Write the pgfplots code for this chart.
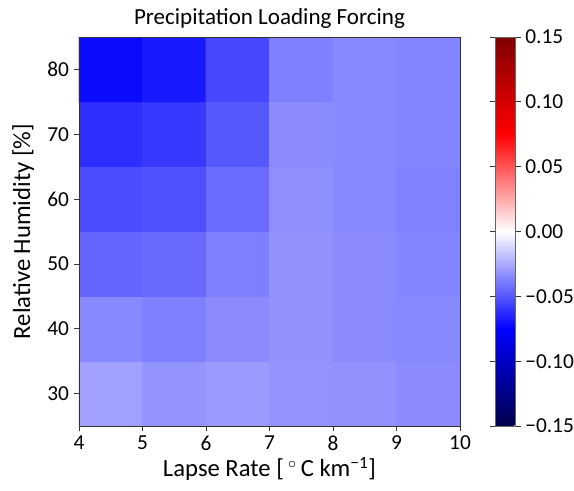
\documentclass[border=0pt]{standalone}
\usepackage{pgfplots}
\pgfplotsset{compat=1.18}
\usepackage{fontspec}
\setmainfont{Carlito}

% cell values: x = lapse rate (cell centre), y = relative humidity, c = forcing
\pgfplotstableread{
x   y   c
4.5 30 -0.0280
5.5 30 -0.0315
6.5 30 -0.0295
7.5 30 -0.0315
8.5 30 -0.0320
9.5 30 -0.0340
4.5 40 -0.0350
5.5 40 -0.0375
6.5 40 -0.0340
7.5 40 -0.0320
8.5 40 -0.0340
9.5 40 -0.0345
4.5 50 -0.0455
5.5 50 -0.0440
6.5 50 -0.0380
7.5 50 -0.0320
8.5 50 -0.0340
9.5 50 -0.0360
4.5 60 -0.0530
5.5 60 -0.0515
6.5 60 -0.0435
7.5 60 -0.0330
8.5 60 -0.0350
9.5 60 -0.0370
4.5 70 -0.0615
5.5 70 -0.0585
6.5 70 -0.0490
7.5 70 -0.0340
8.5 70 -0.0350
9.5 70 -0.0360
4.5 80 -0.0720
5.5 80 -0.0675
6.5 80 -0.0540
7.5 80 -0.0375
8.5 80 -0.0350
9.5 80 -0.0360
}\forcing

\pgfplotsset{
  colormap={seismic}{rgb=(0,0,0.3) rgb=(0,0,1) rgb=(1,1,1) rgb=(1,0,0) rgb=(0.5,0,0)},
}

\begin{document}
\begin{tikzpicture}
\begin{axis}[
  scale only axis,
  width=285.75pt, height=291.75pt,
  xmin=4, xmax=10, ymin=25, ymax=85,
  xtick={4,5,6,7,8,9,10},
  ytick={30,40,50,60,70,80},
  tick align=outside,
  xtick pos=bottom, ytick pos=left,
  major tick length=4pt,
  axis line style={black!80, line width=0.6pt},
  tick style={black!80, line width=0.6pt},
  /pgf/number format/assume math mode=true,
  tick label style={font=\fontsize{16}{19}\selectfont},
  label style={font=\fontsize{18.5}{21}\selectfont},
  ylabel style={yshift=3pt},
  xlabel style={yshift=2pt},
  title style={font=\fontsize{17.3}{20}\selectfont, yshift=-3pt},
  title={Precipitation Loading Forcing},
  xlabel={Lapse Rate [\,$^{\circ}$\,C km\textsuperscript{−1}]},
  ylabel={Relative Humidity [\%]},
  colormap name=seismic,
  point meta min=-0.15, point meta max=0.15,
  colorbar,
  colorbar style={
    at={(parent axis.north east)}, anchor=north west, xshift=18pt,
    width=15pt,
    ytick={-0.15,-0.10,-0.05,0,0.05,0.10,0.15},
    yticklabels={−0.15,−0.10,−0.05,0.00,0.05,0.10,0.15},
    tick align=outside,
    major tick length=4pt,
    axis line style={black!60, line width=0.5pt},
    tick style={black!80, line width=0.6pt},
    yticklabel style={font=\fontsize{16}{19}\selectfont},
  },
  axis on top,
]
\addplot[matrix plot*, mesh/cols=6, point meta=explicit, shader=flat corner]
  table[x=x, y=y, meta=c] {\forcing};
\node[font=\fontsize{13}{15}\selectfont, anchor=center]
  at ([xshift=78pt]rel axis cs:1,0.56) {°};
\end{axis}
\pgfresetboundingbox
\path (current axis.south west) ++(-59.25pt,-48.75pt) rectangle ++(430.5pt,368.25pt);
\end{tikzpicture}
\end{document}
